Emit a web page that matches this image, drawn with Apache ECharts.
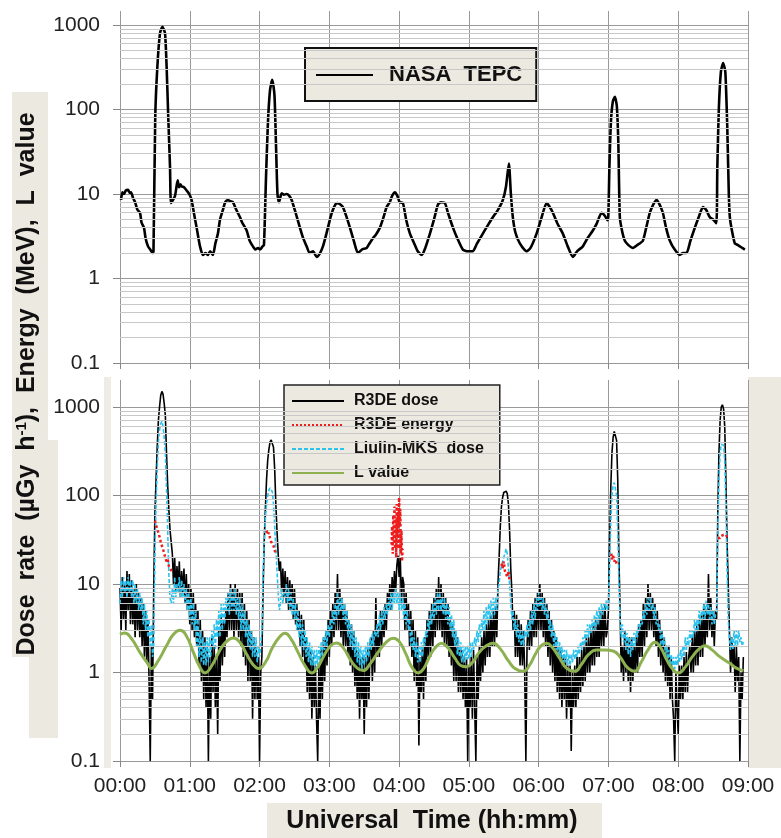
<!DOCTYPE html>
<html>
<head>
<meta charset="utf-8">
<script src="https://cdn.jsdelivr.net/npm/echarts@6/dist/echarts.min.js"></script>
<style>
html,body{margin:0;padding:0;background:#fff;}
#chart-body{width:781px;height:838px;}
</style>
</head>
<body>
<div id="chart-body"></div>
<script>
// time is in minutes from 00:00, values in µGy/h, MeV or L
var hourLabels = ['00:00','01:00','02:00','03:00','04:00','05:00','06:00','07:00','08:00','09:00'];

var tepcDose = [[0.9,8.5],[2,10.5],[3.4,10],[5,11],[6.9,11.2],[8.5,10.3],[9.5,10.5],[11.2,9],[13,8],[15,6.5],[17.2,6],[18.5,4.6],[20.6,4],[22,3],[24.1,2.4],[26,2.2],[28.1,2.0],[28.8,2.1],
	[30.3,81],[32.1,316],[34.4,800],[36.4,950],[38.7,800],[40.1,316],[41.5,81],[43,21],[43.8,7.8],[45.6,8.5],[47.3,9.5],[48.5,12],[49.6,14.5],[50.7,12],[52,13],[53,12.3],[55,12],[57.3,11],[59.5,10],
	[61.6,8.5],[63.5,6],[65.9,4],[68.8,2.4],[71.3,1.9],[73.5,2.0],[75.6,1.9],[77.5,2.1],[79.9,1.9],[82,2.6],[84.2,3.4],[86,5],[88.5,6.5],[90.5,8],[92.8,8.5],[95,8.2],[97.1,8],[100,6.5],
	[103.2,5.3],[105,4.6],[108.9,3.7],[111.5,2.8],[114.3,2.4],[116.5,2.2],[118.6,2.3],[120.5,2.2],[122.5,2.4],[123.8,2.5],[125.5,15],[127.2,70],[129,170],[130.9,224],[132.8,150],[134.1,40],
	[135.4,10],[136.7,8],[139,10.2],[141,9.8],[143.3,10],[145.5,9.5],[147.6,8.5],[151,6],[154.7,4],[157.5,3],[160.5,2.4],[163,2.0],[166,2.1],[169.1,1.8],[172,2.0],[174.5,2.4],[176.5,3],
	[178.8,4],[181,5.3],[183.1,6.5],[185.5,7.6],[187.4,7.8],[189.5,7.5],[191.7,7],[194.5,5.5],[197.7,4],[201,2.8],[204.6,2.0],[208,2.2],[212.1,2.3],[214.5,2.6],[217.5,3],[220,3.3],[223.5,4],
	[226,5],[229.3,7],[232,8],[234,9.5],[236.4,10.5],[238.5,9.5],[240.5,8],[243.3,7.8],[246,5],[249.3,3.4],[253,2.6],[256,2.1],[259.3,1.9],[262,2.2],[266.5,3.4],[270,5],[273.4,7.5],[276,8],
	[279.4,7.8],[282,6],[286.3,4],[290,3],[294.8,2.2],[299,2.1],[303.4,2.1],[307,2.6],[312,3.4],[316,4.2],[320.6,5.3],[325,6.5],[329.2,8.5],[331.8,12],[334.4,23],[336.1,10],[337.8,5.3],
	[340,3.5],[343.8,2.6],[349.6,2.1],[353,2.3],[358.2,3.4],[362,5],[366.8,7.8],[369,7.2],[372.2,6],[376,4.5],[380.8,3.4],[385,2.4],[389.4,1.8],[393,2.1],[398,2.4],[402,3],[406.6,3.7],
	[410,4.5],[414.1,6],[417,5.5],[419.1,4.9],[419.9,5.5],[420.8,20],[422.1,70],[423.8,125],[425.5,141],[427.2,110],[428.5,40],[429.8,5.3],[432,3.5],[434.1,2.8],[437,2.5],[441,2.3],
	[445,2.5],[449.6,2.8],[452.5,4],[455.6,6],[458.5,7.5],[461.4,8.5],[464,7.5],[466.8,6],[469.5,4],[472.8,2.8],[477,2.2],[481.4,1.9],[484,2.0],[487.1,2.0],[490.5,2.8],[494.3,4],[498,5.5],
	[501.2,7],[504,6.5],[507.2,5.3],[510,5],[512.8,4.5],[513.6,20],[514.9,100],[516.7,280],[518.6,355],[520.5,280],[522.2,60],[523.5,10],[524.4,5.3],[526.5,3.5],[528.7,2.6],[531,2.5],
	[533,2.4],[535,2.3],[537.3,2.2]];

// one reading per minute, starting at 00:00
var r3deDose = [
	9,3,12,4,10,3,14,5,13,3.5, 11,3.5,9,2.5,10,3,8,2.5,7,2, 6,1.5,5,1.3,4,0.8,0.1,2,0.5,
	9,60,150,350,700,1000,1350,1500,1400,1100,800,300,130,70,41,30,22,
	10,20,8,16,9,18,7,14,8,15,6,13, 5,10,3.5,9,3,8,2.5,6, 2,5,1.2,4,0.8,3,0.5,2.5,0.4,2,
	0.1,1.5,0.3,2.5,0.6,2,0.4,1.5,0.2,3, 0.8,4.5,1.2,4,1.5,5, 2.5,8,3,10,3,9,2.5,10,3,9,2.5,8,
	2,8,1.5,6,1.2,5,0.8,4, 0.8,3,0.3,2.5,0.5,2,0.5,1.5,0.1,1,
	1.5,8,30,70,150,250,330,400,425,420,350,200,80,40,22,14,
	18,8,15,7,14,6,12,5,11,5,10,4,9,3.5, 6,3,5,2,4.5,1.5,4,1.2,
	2.5,0.6,2,0.5,1.8,0.3,1.5,0.4,1.2,0.3,0.1,1.2,0.3,2,0.5,2.5,
	0.8,3,1.2,4,1.5,5,2,6,2.5,8,3,13,3,9,2.5,7,2,6, 2,5,1.5,4,1.2,3.5,1,3,
	0.7,2,0.5,1.8,0.3,1.5,0.5,1.5,0.2,1.5,0.4,2,0.5,2, 2.5,0.8,3,1,7,1.5,3.5,1.5,5,2,5,2.5,6,3,
	8,5,10,5,12,7,14,8,16,21,12,20,6,12, 10,3,8,3,6,2,5,1.5, 4,0.8,3,0.7,2.5,0.15,1.5,0.6,2,0.5,2.5,0.8,
	4,1.5,5,1.5,6,2,7,2.5,9,3,12,3,10,2.5,8,2,7,2,6,1.5, 4,1.2,3.5,0.8,3,0.8,2.5,0.6,2,0.6,1.8,0.5,1.5,0.4,
	1.5,0.1,1.2,0.4,1.5,0.3,1.8,0.4,0.1,1.5,0.5,2, 0.8,2.5,1,3,1.2,3.5,1.5,4,1.5,4.5,2,5,2,5.5,2.5,
	10,20,45,75,95,108,112,112,105,80,40,15,8,
	3,5,1.5,4.5,1.5,4,1.2,3.5,1.2,3,1,0.1, 2,4,1.8,5,2,6,2.5,7,2.5,8,3,10,3,8,2.5,7,2,6,
	1.5,5,1.2,4,1,3,0.8,2.5,0.6,2,0.5,1.8, 0.4,1.5,0.5,1.5,0.3,1.2,0.4,1.2,0.13,1,0.4,1.2,0.4,1.5,0.5,1.5,0.6,1.8,0.7,2,
	0.8,2.5,1,2.5,1,3,1.2,3.5,1.2,4,1.5,4,1.5,5,2,5,2,6,2.5,3,
	5,30,120,300,450,530,520,420,150,20,5,
	1,2,0.8,3,1,2.5,0.8,2.5,0.6,2.5,0.8,2,1,2.5,1, 3.5,1.5,4,1.5,6,2,7,2.5,10,3,8,3,7,2.5,6,2,
	5,1.5,4,1.2,3,1,2.5,0.8,2,0.7,2,0.5,1.5,0.5, 0.3,0.1,1,0.4,0.2,1.2,0.5,1.2,0.5,1.5,0.6,1.7,0.6,1.5,
	2,1,2.5,1,3,1.2,3.5,1.2,4,1.5,4.5,1.5,6,2,5,2.5,13,3,7,2.5,5,2,5,
	4,60,300,700,1000,1060,950,600,150,30,10,3,
	1,2.5,1.2,2,0.6,2,0.8,1.5,0.1,1,0.5,1.5];

// one reading per minute, starting at 00:00
var liulinDose = [
	6,11,7,12,8,11,7,12,8,11, 7,11,6,10,6,9,5,8,5,7, 3.5,6,3,5,2.5,4,2,3.5,1.5,
	2,20,80,200,400,550,650,690,600,450,300,120,40,13,7,6,
	9,6,12,7,10,8,12,7,11,7,10,6,9, 5,8,4,7,3.5,6,3,5,2,4, 1.5,3,1.3,2.5,1.2,2.2,1.2,2.5,1.3,2.5,1.5,3,
	2,3.5,1.8,4,2.5,5,2.5,6,3,6,3.5,7, 5,8,4.5,9,5,8,5,9,4.5,7,4,7, 3,6,3,5,2.5,4,2,3.5,1.8,3,1.5,2.5,
	1.5,2.5,1.3,2,1.5,2,
	3,12,30,55,80,100,115,122,125,110,80,45,25,14,8,5,
	6,9,6,8,7,10,6,9,5,8,4.5,7,4,6, 3,5,2.5,4,2,3.5,1.8,3,1.5,2.5,1.3,2.2,
	1.2,2,1.2,1.8,1.1,1.8,1.2,2,1.3,2.2,1.5,2.5,1.8,3, 2,3.5,2.5,4,3,5,3.5,6,4,8,4.5,7,5,7,4,6,
	3.5,5,2.5,4,2,3.5,1.8,3,1.5,2.5,1.3,2.2, 1.2,2,1.1,1.8,1.2,2,1.3,2.2,1.5,2.5,1.8,2.8,2,3,
	2.5,3.5,2.5,4.5,3,5,3.5,5.5,4,6,4.5,7,5,8, 5,8,6,9,6,8,5,8,5,7,4,6, 3.5,5,3,4,2,3,1.8,2.5,1.5,2.2,1.3,2,
	1.3,2.2,1.5,2.5,2,3,2.5,4,3,5,3.5,6, 4,7,4.5,8,5,8,5,7,4.5,7,4,6,3.5,5.5, 3,4.5,2.5,4,2,3,1.6,2.5,1.5,2.2,1.3,2,1.3,2,
	1.4,2,1.4,2.2,1.5,2.2,1.8,2.5,2,3,2.2,3.5,2.5,4, 3,5,3,5.5,3.5,6,4,6.5,4,7,4.5,7,5,9,
	10,14,16,18,20,22,25,22,15,10,6,4,
	5,3,4,2.5,3.5,2.2,3,2,3,2,3,2.5, 3.5,2.5,4,3,5,3.5,6,4,7,5,8,5.5,7,5,7,4.5,6,4,
	5,3,4,2.5,3.5,2,2.8,1.8,2.5,1.5,2.2,1.5,2,1.3, 1.8,1.3,1.8,1.2,1.6,1.2,1.6,1.3,1.8,1.4,1.8,1.5,2,1.6,2.2,1.8,2.5,2,
	3,2.2,3.5,2.5,3.5,2.8,4,3,4.5,3,5,3.5,5.5,4,6,4.5,6,5,6.5,5,6,
	15,50,100,130,140,135,100,40,10,4,
	2.5,3.5,2.2,3,1.8,2.8,1.6,2.5,1.5,2.5,1.8,2.8,2,3,2.5, 3.5,3,4,3.5,5,4,6,4.5,7,5,7,5,6,4,5.5,3.5,
	4,3,3.5,2,3,2,2.5,1.5,2,1.3,1.8,1.2,1.6,1.1, 1.5,1.1,1.5,1.2,1.6,1.3,1.8,1.4,2,1.5,2.5,1.8,2.5,2,
	3,2.2,3,2.5,4,2.8,4,3,5,3.5,5,4,6,4,6.5,4.5,6,4,5.5,3.5,5,3.5,4.5,5,
	30,150,300,380,400,370,250,80,15,4,
	2.5,1.8,2.5,1.8,3,2,3,2,3,2.2,2.5,2,2.2];

// '-' breaks the line between the separate energy readings
var r3deEnergy = [[30,52],[31,46],[32,42],[33,38],[34,34],[35,30],[36,27],[37,25],[38,22],[39,20],[40,18],[41,19],[42,16],[43,15],[44.5,14],[80,'-'],
	[126,40],[127,36],[128,38],[129,33],[130,30],[131,31],[132,27],[133,24],[134,22],[180,'-'],
	[233.5,28],[234,45],[234.5,22],[235,60],[235.5,30],[236,75],[236.5,25],[237,55],[237.5,20],[238,80],[238.5,35],[239,65],[239.5,25],[240,95],[240.5,45],[241,70],[241.5,22],[242,40],
	[242.5,18],[243,25],[280,'-'],
	[328,17],[329,15],[330,18],[331,14],[332,13],[333,12],[334,14],[335,11],[380,'-'],
	[422.5,22],[423,19],[424,21],[425,18],[426,19],[427,17],[470,'-'],
	[514,33],[515,34],[516,33],[517,35],[518,34],[519,36],[520,35],[521,36],[522,34]];

var lValue = [[0,2.7],[4,2.8],[10,2.4],[17,1.7],[24,1.25],[27,1.11],[32,1.3],[40,2.0],[46,2.7],[51.6,3.0],[57,2.6],[63,1.7],[68,1.2],[73,0.99],[79,1.2],[85,1.7],[91,2.2],[97.4,2.45],
	[103,2.2],[109,1.6],[114,1.25],[119,1.11],[125,1.3],[131,1.9],[137,2.5],[141.8,2.77],[147,2.4],[153,1.7],[159,1.2],[164.8,0.99],[170,1.15],[176,1.6],[181,2.0],[186.3,2.15],[192,1.9],
	[198,1.4],[204,1.12],[209,1.05],[215,1.25],[222,1.7],[229,2.2],[235,2.44],[240,2.25],[246,1.6],[251,1.15],[256.4,0.99],[261,1.1],[266,1.5],[271,1.9],[276.5,2.14],[282,1.9],[288,1.45],
	[293,1.2],[298,1.16],[303,1.3],[309,1.7],[315,2.0],[320.9,2.14],[327,1.85],[334,1.35],[340,1.1],[346.7,1.03],[352,1.2],[357,1.6],[362,2.0],[366.8,2.14],[372,1.9],[378,1.45],[384,1.12],
	[391,1.03],[397,1.25],[403,1.6],[409.8,1.8],[417,1.8],[424,1.75],[430,1.5],[436,1.15],[442.7,1.03],[448,1.3],[454,1.8],[460,2.2],[465,1.9],[470,1.4],[475,1.1],[480,0.99],[486,1.15],
	[492,1.5],[498,1.85],[503,2.0],[509,1.8],[516,1.5],[524.4,1.27],[530,1.12],[536,1.05]];

// minor log gridlines 2..9 in each decade
var minorLines = [];
for (var d = 0.1; d < 1000; d *= 10) {
	for (var k = 2; k <= 9; k++) {
		minorLines.push({yAxis: +(k * d).toPrecision(3)});
	}
}

var FONT = '"Liberation Sans", Arial, sans-serif';
var BEIGE = '#ece9e0';

function perMinute(list){
	var out = [];
	for (var i = 0; i < list.length; i++) {
		out.push([i, list[i]]);
	}
	return out;
}
function decadeLabel(v){
	return String(+Number(v).toPrecision(3));
}
function hourLabel(v){
	return hourLabels[Math.round(v / 60)] || '';
}

function plotYAxis(grid){
	return {
		type: 'log', logBase: 10, gridIndex: grid, min: 0.1, max: 1000,
		axisLine: {show: false},
		axisTick: {show: true, length: 7, lineStyle: {color: '#888'}},
		axisLabel: {fontSize: 21, color: '#222', margin: 20, fontFamily: FONT, formatter: decadeLabel},
		splitLine: {show: true, lineStyle: {color: '#999', width: 1}}
	};
}
function hiddenXAxis(grid){
	return {type: 'value', gridIndex: grid, min: 0, max: 540, show: false};
}
function timeXAxis(grid, labels){
	return {
		type: 'value', gridIndex: grid, min: 0, max: 540, interval: 60,
		axisLine: {show: false},
		axisTick: {show: true, length: 6, lineStyle: {color: '#888'}},
		axisLabel: {show: labels, fontSize: 21, color: '#222', margin: 15, fontFamily: FONT, formatter: hourLabel},
		splitLine: {show: true, lineStyle: {color: '#999', width: 1}}
	};
}
function minorSeries(grid){
	return {
		type: 'line', xAxisIndex: grid, yAxisIndex: grid, z: 1, silent: true,
		data: [[0, 1], [540, 1]], symbol: 'none', lineStyle: {opacity: 0},
		markLine: {
			silent: true, symbol: ['none', 'none'], label: {show: false},
			lineStyle: {color: '#c8c8c8', width: 1, type: 'solid'},
			emphasis: {disabled: true},
			animation: false,
			data: minorLines
		}
	};
}

var myChart = echarts.init(document.getElementById('chart-body'));

var option = {
	animation: false,
	backgroundColor: '#fff',
	textStyle: {fontFamily: FONT},
	grid: [
		{left: 120, right: 33, top: 25, height: 338},
		{left: 120, right: 33, top: 11, height: 352},
		{left: 120, right: 33, top: 407, height: 354},
		{left: 120, right: 33, top: 380, height: 381}
	],
	xAxis: [hiddenXAxis(0), timeXAxis(1, false), hiddenXAxis(2), timeXAxis(3, true)],
	yAxis: [
		plotYAxis(0),
		{type: 'log', logBase: 10, gridIndex: 1, min: 0.1, max: Math.pow(10, -1 + 4 * 352 / 338), show: false},
		plotYAxis(2),
		{type: 'log', logBase: 10, gridIndex: 3, min: 0.1, max: Math.pow(10, -1 + 4 * 381 / 354), show: false}
	],
	legend: [
		{
			data: ['NASA  TEPC'], left: 305, top: 48, orient: 'vertical',
			itemWidth: 57, itemHeight: 14, padding: [16, 14, 15, 10],
			itemStyle: {opacity: 0},
			backgroundColor: BEIGE, borderColor: '#111', borderWidth: 2,
			textStyle: {fontSize: 22, fontWeight: 'bold', color: '#111', fontFamily: FONT, padding: [0, 0, 0, 11]},
			selectedMode: false
		},
		{
			data: ['R3DE dose', 'R3DE energy', 'Liulin-MKS  dose', 'L value'], left: 284, top: 385, orient: 'vertical',
			itemWidth: 52, itemHeight: 14, itemGap: 8, padding: [8, 16, 4, 7],
			itemStyle: {opacity: 0},
			backgroundColor: BEIGE, borderColor: '#222', borderWidth: 1.5,
			textStyle: {fontSize: 16, fontWeight: 'bold', color: '#111', fontFamily: FONT, padding: [0, 0, 0, 5]},
			selectedMode: false
		}
	],
	graphic: [
		{type: 'rect', z: -10, shape: {x: 12, y: 92, width: 36, height: 565}, style: {fill: BEIGE}},
		{type: 'rect', z: -10, shape: {x: 29, y: 440, width: 29, height: 298}, style: {fill: BEIGE}},
		{type: 'rect', z: -10, shape: {x: 104, y: 377, width: 7, height: 391}, style: {fill: '#efece6'}},
		{type: 'rect', z: -10, shape: {x: 748, y: 377, width: 33, height: 391}, style: {fill: BEIGE}},
		{type: 'rect', z: -10, shape: {x: 267, y: 803, width: 335, height: 35}, style: {fill: BEIGE}},
		{
			type: 'text', x: 27, y: 384, rotation: Math.PI / 2,
			style: {
				text: 'Dose  rate  (µGy  h{sup|-1}),  Energy  (MeV),  L  value',
				fill: '#111', font: 'bold 25px ' + FONT, align: 'center', verticalAlign: 'middle',
				rich: {sup: {fontSize: 15, fontWeight: 'bold', fontFamily: FONT, fill: '#111', verticalAlign: 'top', padding: [0, 0, 6, 0]}}
			}
		},
		{
			type: 'text', x: 432, y: 821,
			style: {text: 'Universal  Time (hh:mm)', fill: '#111', font: 'bold 25px ' + FONT, align: 'center', verticalAlign: 'middle'}
		}
	],
	series: [
		minorSeries(0),
		minorSeries(2),
		{
			name: 'NASA  TEPC', type: 'line', xAxisIndex: 1, yAxisIndex: 1, z: 3,
			data: tepcDose, symbol: 'none', smooth: 0.2,
			lineStyle: {color: '#000', width: 2.6}, itemStyle: {color: '#000'}
		},
		{
			name: 'R3DE dose', type: 'line', xAxisIndex: 3, yAxisIndex: 3, z: 3,
			data: perMinute(r3deDose), symbol: 'none',
			lineStyle: {color: '#000', width: 1.6}, itemStyle: {color: '#000'}
		},
		{
			name: 'Liulin-MKS  dose', type: 'line', xAxisIndex: 3, yAxisIndex: 3, z: 4,
			data: perMinute(liulinDose), symbol: 'none',
			lineStyle: {color: '#2cc2ee', width: 1.6, type: [4, 2]}, itemStyle: {color: '#2cc2ee'}
		},
		{
			name: 'R3DE energy', type: 'line', xAxisIndex: 3, yAxisIndex: 3, z: 5,
			data: r3deEnergy, symbol: 'none', connectNulls: false,
			lineStyle: {color: '#ee1c1c', width: 2.5, type: 'dotted'}, itemStyle: {color: '#ee1c1c'}
		},
		{
			name: 'L value', type: 'line', xAxisIndex: 3, yAxisIndex: 3, z: 6,
			data: lValue, symbol: 'none', smooth: 0.5,
			lineStyle: {color: '#8db150', width: 3}, itemStyle: {color: '#8db150'}
		}
	]
};

myChart.setOption(option);
</script>
</body>
</html>
